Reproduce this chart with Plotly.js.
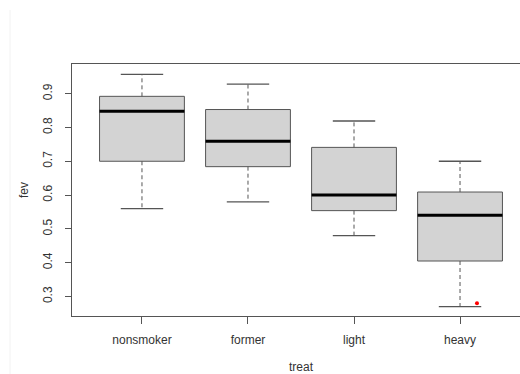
<!DOCTYPE html>
<html>
<head>
<meta charset="utf-8">
<script src="https://cdn.plot.ly/plotly-3.0.1.min.js"></script>
<style>
html, body { margin: 0; padding: 0; overflow: hidden; background: #fff; width: 520px; height: 374px; }
#chart { width: 540px; height: 374px; }
</style>
</head>
<body>
<div id="chart"></div>
<script>
// ---- data ----
const categories = ['nonsmoker', 'former', 'light', 'heavy'];
const lowerWhisker = [0.56, 0.58, 0.48, 0.27];
const q1 = [0.70, 0.684, 0.554, 0.405];
const median = [0.848, 0.759, 0.600, 0.540];
const q3 = [0.892, 0.853, 0.741, 0.609];
const upperWhisker = [0.957, 0.928, 0.819, 0.700];
const pointCategory = ['heavy'];
const pointValue = [0.28];
const yTickValues = [0.3, 0.4, 0.5, 0.6, 0.7, 0.8, 0.9];

// ---- styles ----
const BOX_W = 0.8, CAP_W = 0.4, POINT_SHIFT = 0.16;
const LINE_C = '#555555';
const FONT = {family: 'Liberation Sans, Arial, sans-serif', size: 12, color: '#333333'};

const pos = categories.map((c, i) => i + 1);
const traces = [];

categories.forEach((c, i) => {
  const x = pos[i];
  // box body
  traces.push({
    type: 'box', x: [x], q1: [q1[i]], median: [median[i]], q3: [q3[i]],
    lowerfence: [q1[i]], upperfence: [q3[i]],
    width: BOX_W, whiskerwidth: 0, fillcolor: '#D3D3D3',
    line: {color: LINE_C, width: 1}, showlegend: false, hoverinfo: 'skip',
    boxpoints: false
  });
  // dashed whiskers
  traces.push({
    type: 'scatter', mode: 'lines', x: [x, x, null, x, x],
    y: [q3[i], upperWhisker[i], null, q1[i], lowerWhisker[i]],
    line: {color: LINE_C, width: 1, dash: '4px,3px'}, showlegend: false, hoverinfo: 'skip'
  });
  // caps
  traces.push({
    type: 'scatter', mode: 'lines',
    x: [x - CAP_W / 2, x + CAP_W / 2, null, x - CAP_W / 2, x + CAP_W / 2],
    y: [upperWhisker[i], upperWhisker[i], null, lowerWhisker[i], lowerWhisker[i]],
    line: {color: LINE_C, width: 1.3}, showlegend: false, hoverinfo: 'skip'
  });
  // median
  traces.push({
    type: 'scatter', mode: 'lines',
    x: [x - BOX_W / 2, x + BOX_W / 2], y: [median[i], median[i]],
    line: {color: '#000000', width: 3}, showlegend: false, hoverinfo: 'skip'
  });
});

// red point
traces.push({
  type: 'scatter', mode: 'markers',
  x: pointCategory.map(c => categories.indexOf(c) + 1 + POINT_SHIFT),
  y: pointValue,
  marker: {color: '#ff0000', size: 4}, showlegend: false, hoverinfo: 'skip'
});

const layout = {
  width: 540, height: 374,
  margin: {l: 72, r: 10, t: 64, b: 58},
  paper_bgcolor: '#ffffff', plot_bgcolor: '#ffffff',
  font: FONT,
  xaxis: {
    range: [0.34, 4.66], tickvals: pos, ticktext: categories,
    showgrid: false, zeroline: false, showline: true, mirror: true,
    linecolor: LINE_C, linewidth: 1, ticks: 'outside', ticklen: 7, tickcolor: LINE_C,
    tickfont: FONT, ticklabelstandoff: 6,
    title: {text: 'treat', font: FONT, standoff: 20}
  },
  yaxis: {
    range: [0.2424, 0.9876], tickvals: yTickValues,
    ticktext: yTickValues.map(v => v.toFixed(1)),
    showgrid: false, zeroline: false, showline: true, mirror: true,
    linecolor: LINE_C, linewidth: 1, ticks: 'outside', ticklen: 6, tickcolor: LINE_C,
    tickangle: -90, tickfont: FONT, ticklabelstandoff: 8,
    title: {text: 'fev', font: FONT, standoff: 10}
  },
  shapes: [{
    type: 'line', xref: 'paper', yref: 'paper',
    x0: -62 / 458, x1: -62 / 458, y0: -58 / 252, y1: 1 + 54 / 252,
    line: {color: '#f2f2f2', width: 1}
  }]
};

Plotly.newPlot('chart', traces, layout, {staticPlot: true, displayModeBar: false});
</script>
</body>
</html>
